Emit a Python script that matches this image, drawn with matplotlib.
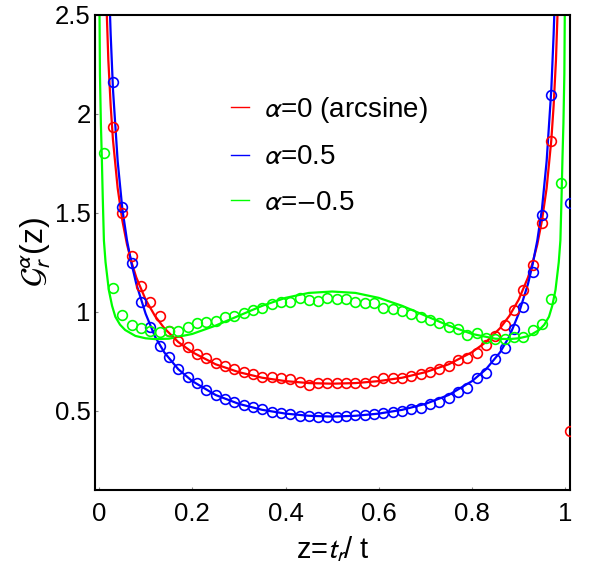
import numpy as np
import matplotlib
matplotlib.use("Agg")
import matplotlib.pyplot as plt
from matplotlib.lines import Line2D

plt.rcParams['font.family'] = ['Liberation Sans', 'DejaVu Sans']
plt.rcParams['mathtext.fontset'] = 'stixsans'

# ---------------- data ----------------
labels = [r'$\alpha$=0 (arcsine)', r'$\alpha$=0.5', r'$\alpha$=$-$0.5']
colors = ['#ff0000', '#0000ff', '#00ff00']

# simulation markers at bin centres
z_pts = [0.01, 0.03, 0.05, 0.07, 0.09, 0.11, 0.13, 0.15, 0.17, 0.19,
         0.21, 0.23, 0.25, 0.27, 0.29, 0.31, 0.33, 0.35, 0.37, 0.39,
         0.41, 0.43, 0.45, 0.47, 0.49, 0.51, 0.53, 0.55, 0.57, 0.59,
         0.61, 0.63, 0.65, 0.67, 0.69, 0.71, 0.73, 0.75, 0.77, 0.79,
         0.81, 0.83, 0.85, 0.87, 0.89, 0.91, 0.93, 0.95, 0.97, 0.99, 1.01]

red_pts = [3.30, 1.93, 1.50, 1.28, 1.13, 1.05, 0.98, 0.905, 0.854, 0.821,
           0.787, 0.765, 0.743, 0.727, 0.710, 0.698, 0.686, 0.673, 0.670, 0.664,
           0.660, 0.647, 0.631, 0.639, 0.639, 0.642, 0.639, 0.639, 0.642, 0.652,
           0.664, 0.664, 0.668, 0.678, 0.685, 0.698, 0.710, 0.727, 0.757, 0.765,
           0.794, 0.832, 0.880, 0.933, 1.008, 1.112, 1.235, 1.450, 1.860, 3.30, 0.40]

blue_pts = [4.00, 2.16, 1.53, 1.245, 1.051, 0.922, 0.829, 0.770, 0.710, 0.673,
            0.639, 0.605, 0.580, 0.558, 0.546, 0.530, 0.521, 0.508, 0.496, 0.488,
            0.484, 0.476, 0.474, 0.471, 0.471, 0.471, 0.474, 0.479, 0.479, 0.484,
            0.489, 0.492, 0.500, 0.508, 0.515, 0.532, 0.546, 0.563, 0.597, 0.615,
            0.664, 0.692, 0.762, 0.817, 0.914, 1.026, 1.200, 1.488, 2.095, 4.00, 1.55]

green_pts = [1.80, 1.118, 0.984, 0.933, 0.917, 0.905, 0.900, 0.905, 0.905, 0.925,
             0.942, 0.950, 0.955, 0.972, 0.979, 0.992, 1.009, 1.021, 1.039, 1.051,
             1.051, 1.068, 1.060, 1.056, 1.068, 1.064, 1.063, 1.050, 1.045, 1.043,
             1.018, 1.015, 1.002, 0.990, 0.973, 0.959, 0.942, 0.925, 0.912, 0.885,
             0.892, 0.868, 0.862, 0.860, 0.872, 0.872, 0.906, 0.937, 1.062, 1.652, np.nan]

# theory curves
z_red = [0.005, 0.01, 0.015, 0.02, 0.025, 0.03, 0.04, 0.05, 0.06, 0.07, 0.08,
         0.10, 0.12, 0.14, 0.17, 0.20, 0.25, 0.30, 0.35, 0.40, 0.45, 0.50,
         0.55, 0.60, 0.65, 0.70, 0.75, 0.80, 0.83, 0.86, 0.88, 0.90, 0.92,
         0.93, 0.94, 0.95, 0.96, 0.97, 0.975, 0.98, 0.985, 0.99, 0.995]
red_line = [4.51, 3.20, 2.62, 2.27, 2.04, 1.866, 1.624, 1.461, 1.340, 1.248, 1.173,
            1.061, 0.979, 0.917, 0.847, 0.796, 0.735, 0.695, 0.667, 0.650, 0.640, 0.637,
            0.640, 0.650, 0.667, 0.695, 0.735, 0.796, 0.847, 0.917, 0.979, 1.061, 1.173,
            1.248, 1.340, 1.461, 1.624, 1.866, 2.04, 2.27, 2.62, 3.20, 4.51]

z_blue = [0.015, 0.02, 0.025, 0.03, 0.04, 0.05, 0.06, 0.07, 0.08, 0.10,
          0.12, 0.14, 0.17, 0.20, 0.25, 0.30, 0.35, 0.40, 0.45, 0.50,
          0.55, 0.60, 0.65, 0.70, 0.75, 0.80, 0.83, 0.86, 0.88, 0.90,
          0.92, 0.93, 0.94, 0.95, 0.96, 0.97, 0.975, 0.98, 0.985]
blue_line = [3.50, 2.75, 2.40, 2.12, 1.76, 1.52, 1.36, 1.24, 1.14, 0.99,
             0.875, 0.795, 0.710, 0.650, 0.580, 0.535, 0.505, 0.486, 0.475, 0.471,
             0.475, 0.486, 0.505, 0.535, 0.580, 0.650, 0.710, 0.795, 0.875, 0.99,
             1.14, 1.24, 1.36, 1.52, 1.76, 2.12, 2.40, 2.75, 3.50]

z_green = [0.0005, 0.002, 0.004, 0.006, 0.008, 0.0105, 0.014, 0.021, 0.028, 0.035,
           0.045, 0.056, 0.078, 0.10, 0.12, 0.15, 0.20, 0.25, 0.30, 0.35, 0.40,
           0.45, 0.50, 0.55, 0.60, 0.65, 0.70, 0.75, 0.80, 0.85, 0.88, 0.90,
           0.922, 0.944, 0.955, 0.965, 0.972, 0.979, 0.986, 0.9895, 0.992, 0.994,
           0.996, 0.998, 0.9995]
green_line = [2.70, 2.20, 1.95, 1.78, 1.58, 1.36, 1.25, 1.11, 1.03, 0.975,
              0.935, 0.908, 0.878, 0.866, 0.862, 0.864, 0.888, 0.930, 0.980, 1.030, 1.070,
              1.095, 1.102, 1.095, 1.070, 1.030, 0.980, 0.930, 0.888, 0.864, 0.862, 0.866,
              0.878, 0.908, 0.935, 0.975, 1.03, 1.11, 1.25, 1.36, 1.58, 1.78,
              1.95, 2.20, 2.70]

x_ticks = [0, 0.2, 0.4, 0.6, 0.8, 1.0]
x_ticklabels = ['0', '0.2', '0.4', '0.6', '0.8', '1']
y_ticks = [0.5, 1.0, 1.5, 2.0, 2.5]
y_ticklabels = ['0.5', '1', '1.5', '2', '2.5']

# ---------------- figure ----------------
W, H = 589, 568
fig = plt.figure(figsize=(W / 100, H / 100), dpi=100)
ax = fig.add_axes([95 / W, 1 - 489.7 / H, (570 - 95) / W, (489.7 - 14.5) / H])

lines_z = [z_red, z_blue, z_green]
lines_y = [red_line, blue_line, green_line]
pts_y = [red_pts, blue_pts, green_pts]

for lz, ly, c in zip(lines_z, lines_y, colors):
    ax.plot(lz, ly, color=c, lw=1.6, zorder=2)
for py, c in zip(pts_y, colors):
    ax.plot(z_pts, py, linestyle='none', marker='o', markersize=7,
            markerfacecolor='none', markeredgecolor=c, markeredgewidth=1.2, zorder=3)

ax.set_xlim(-0.0086, 1.0101)
ax.set_ylim(0.102, 2.5)
ax.set_xticks(x_ticks)
ax.set_xticklabels(x_ticklabels)
ax.set_yticks(y_ticks)
ax.set_yticklabels(y_ticklabels)
ax.tick_params(direction='in', length=2.5, width=0.8, color='#888888',
               labelsize=18.5, colors='black')
ax.tick_params(axis='x', pad=9)
ax.tick_params(axis='y', pad=3)
for s in ax.spines.values():
    s.set_linewidth(1.5)
    s.set_color('black')

ax.set_xlabel(r'z=$t_r$/ t', fontsize=21, labelpad=6)
ax.set_ylabel(r'$\mathcal{G}_r^{\alpha}$(z)', fontsize=23, labelpad=2)

handles = [Line2D([], [], color=c, lw=1.0) for c in colors]
ax.legend(handles, labels, loc='upper left', frameon=False, fontsize=20,
          bbox_to_anchor=(231 / W, 1 - 95 / H), bbox_transform=fig.transFigure,
          handlelength=0.65, handletextpad=0.55, labelspacing=0.70, borderpad=0,
          borderaxespad=0)

fig.savefig('out.png', dpi=100)
